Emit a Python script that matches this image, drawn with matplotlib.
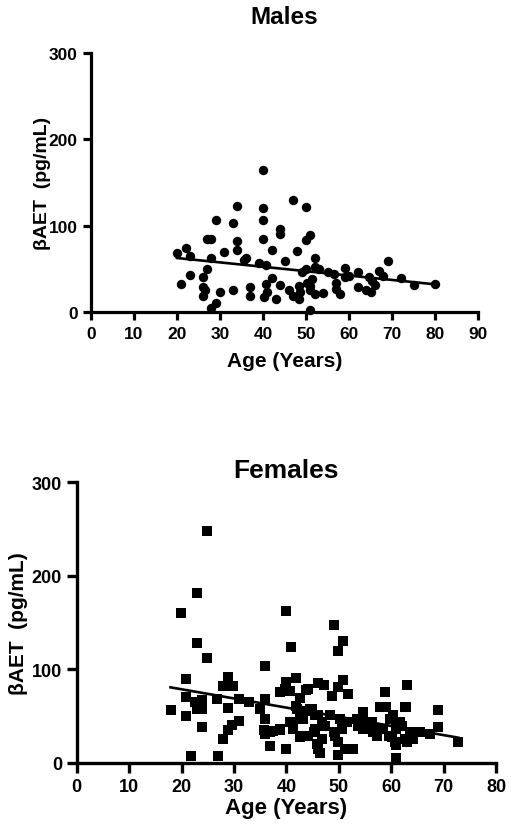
import matplotlib
matplotlib.use("Agg")
import matplotlib.pyplot as plt
import numpy as np

plt.rcParams['font.family'] = ['Liberation Sans', 'DejaVu Sans']
plt.rcParams['font.weight'] = 'bold'

# ── Males ─────────────────────────────────────────────
male_age = [20, 21, 22, 23, 23, 26, 26, 26.5, 26, 27, 27, 28, 28, 28, 29, 29,
            30, 31, 33, 33, 34, 34, 34, 35.5, 36, 37, 37, 39, 40, 40, 40, 40,
            40.6, 40.6, 41, 40.2, 42, 42, 43, 44, 44, 44, 45, 46, 47, 47, 48,
            48.3, 48.3, 48.7, 49, 50, 50, 50, 50.3, 51, 51, 51, 51.5, 51, 52,
            52, 52, 53, 54, 55, 56.5, 57, 57, 58, 59, 59, 60, 62, 62, 64,
            64.6, 65, 65.4, 66, 67, 68, 69, 72, 75, 80]
male_val = [68, 33, 74, 65, 43, 41, 29, 25, 18, 50, 84, 85, 63, 5, 10, 107,
            23, 69, 103, 25, 123, 82, 72, 60, 62, 29, 19, 57, 164, 121, 107, 85,
            55, 33, 23, 17, 72, 39, 15, 96, 90, 31, 59, 25, 130, 19, 71,
            15, 30, 23, 46, 122, 83, 50, 34, 89, 25, 2, 38, 30, 63,
            52, 21, 50, 22, 46, 44, 27, 34, 21, 51, 40, 42, 46, 29, 25,
            40, 23, 36, 31, 47, 42, 59, 39, 31, 32]
male_fit = (-0.508, 72.7)   # slope, intercept

# ── Females ───────────────────────────────────────────
female_age = [17.9, 19.9, 20.9, 20.9, 20.9, 21.9, 22.6, 22.9, 22.9, 22.9, 23.9,
              23.9, 23.9, 24.9, 24.9, 26.8, 26.9, 27.9, 28, 28.8, 28.9, 28.9,
              29.6, 29.9, 31, 31, 32.9, 35, 35.8, 35.9, 35.9, 35.9, 35.9, 36.9,
              36.9, 37.5, 38.8, 38.8, 38.8, 39.8, 39.9, 40, 40, 40.7, 40.7, 40.9,
              41.3, 41.9, 41.9, 42, 42.6, 42.6, 42.6, 43.2, 43.2, 43.8, 43.9,
              44.2, 44.2, 44.5, 44.8, 45.2, 45.5, 45.5, 45.8, 46.1, 46.1, 46.1,
              46.4, 46.8, 46.8, 47.1, 47.4, 48.3, 48.7, 49, 49, 49.3, 49.9, 49.9,
              49.9, 49.9, 50.3, 50.6, 50.9, 50.9, 51.2, 51.5, 51.8, 52.8, 53.4,
              53.7, 54.7, 54.7, 54.7, 55.3, 55.7, 56.3, 56.6, 57.3, 57.6, 57.9,
              58.5, 58.8, 59.1, 59.5, 59.8, 60.1, 60.4, 60.8, 61, 61, 61, 61.7,
              62, 62.7, 62.7, 62.8, 63, 63, 63.6, 63.9, 64.2, 64.8, 65.5, 67.4,
              68.9, 68.9, 72.8]
female_val = [57, 160, 90, 71, 50, 8, 65, 182, 128, 58, 67,
              58, 39, 248, 112, 68, 7, 26, 82, 35, 92, 59,
              41, 82, 68, 45, 65, 58, 35, 104, 68, 47, 31, 33,
              18, 34, 76, 36, 35, 79, 162, 87, 15, 77, 44, 124,
              36, 91, 61, 58, 70, 47, 28, 47, 29, 78, 56,
              79, 29, 58, 58, 33, 51, 36, 20, 86, 51, 15,
              11, 44, 26, 83, 40, 51, 72, 147, 33, 29, 120, 81,
              22, 9, 47, 36, 130, 89, 15, 44, 74, 15, 47,
              40, 54, 40, 36, 44, 44, 44, 33, 29, 36, 60,
              36, 76, 60, 29, 47, 28, 51, 22, 36, 19, 5, 44,
              40, 60, 26, 60, 83, 22, 31, 33, 26, 33, 33, 31,
              57, 38, 22]
female_fit = (-0.98, 98.4)

x_ticks_m = np.arange(0, 91, 10)
x_ticks_f = np.arange(0, 81, 10)
y_ticks = [0, 100, 200, 300]

W, H = 511, 837
fig = plt.figure(figsize=(W / 100, H / 100), dpi=100)


def make_panel(rect, age, val, fit, marker, size, xticks, fs):
    ax = fig.add_axes(rect)
    ax.scatter(age, val, marker=marker, s=size, c='black', linewidths=0,
               clip_on=False, zorder=3)
    xs = np.array([min(age), max(age)])
    ax.plot(xs, fit[0] * xs + fit[1], color='black', lw=1.9, zorder=4)
    ax.set_xlim(xticks[0], xticks[-1])
    ax.set_ylim(0, 300)
    ax.set_xticks(xticks)
    ax.set_yticks(y_ticks)
    for s in ['top', 'right']:
        ax.spines[s].set_visible(False)
    for s in ['left', 'bottom']:
        ax.spines[s].set_linewidth(fs['lw'])
    ax.tick_params(width=fs['lw'], length=fs['tl'], labelsize=fs['tick'])
    ax.tick_params(axis='x', pad=fs['xpad'])
    ax.tick_params(axis='y', pad=fs['ypad'])
    for lab in ax.get_xticklabels() + ax.get_yticklabels():
        lab.set_fontweight('bold')
    ax.set_xlabel('Age (Years)', fontsize=fs['label'], fontweight='bold')
    ax.set_ylabel('βAET  (pg/mL)', fontsize=fs['label'] - 1, fontweight='bold')
    ax.xaxis.set_label_coords(0.5, fs['xl'])
    ax.yaxis.set_label_coords(fs['yl'], 0.5)
    return ax


# top panel: axes from x 91..478 px, y 54..313 px
make_panel([91 / W, 1 - 313 / H, 387 / W, 259 / H], male_age, male_val, male_fit,
           'o', 46, x_ticks_m,
           dict(lw=2.3, tl=6, tick=12.5, xpad=4, ypad=3.5, label=15,
                xl=-0.15, yl=-0.104))
fig.text(284.5 / W, 1 - 24 / H, 'Males', ha='center', va='baseline',
         fontsize=17.5, fontweight='bold')

# bottom panel: axes from x 76.7..496 px, y 483.3..764 px
make_panel([76.7 / W, 1 - 764 / H, 419.3 / W, 280.7 / H], female_age, female_val,
           female_fit, 's', 52, x_ticks_f,
           dict(lw=2.4, tl=7, tick=13, xpad=4, ypad=3.5, label=16,
                xl=-0.122, yl=-0.115))
fig.text(286 / W, 1 - 478 / H, 'Females', ha='center', va='baseline',
         fontsize=19, fontweight='bold')

fig.savefig('out.png', dpi=100)
